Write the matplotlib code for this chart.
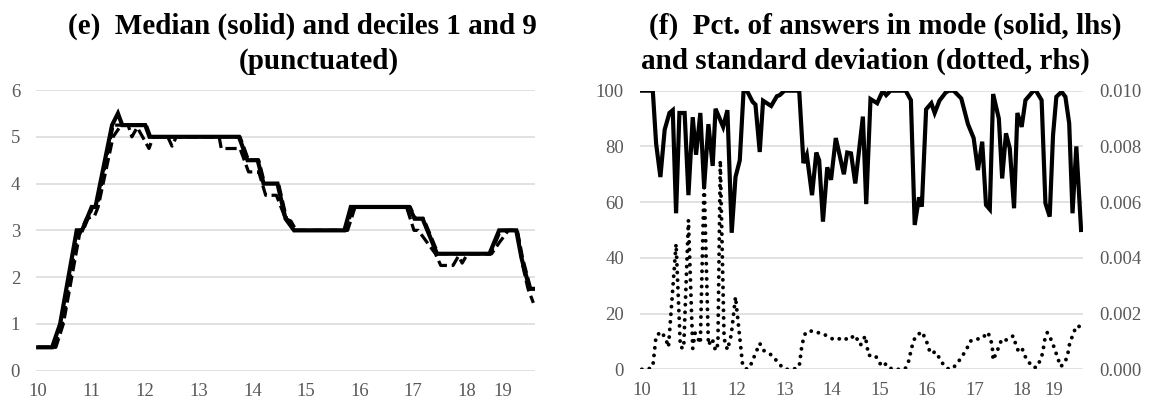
import matplotlib
matplotlib.use("Agg")
import matplotlib.pyplot as plt
from matplotlib.ticker import FormatStrFormatter

plt.rcParams['font.family'] = ['Liberation Serif', 'DejaVu Serif']

# x axis: years (20)10 .. (20)19, label "19" sits at 18.67 on the original axis
tick_pos = [10, 11, 12, 13, 14, 15, 16, 17, 18, 18.67]
tick_lab = ['10', '11', '12', '13', '14', '15', '16', '17', '18', '19']

# (e) median
med_x = [10.0, 10.26, 10.41, 10.72, 10.82, 11.0, 11.07, 11.38, 11.49, 11.57, 12.0, 12.08,
         13.75, 13.91, 14.1, 14.21, 14.47, 14.62, 14.78, 15.72, 15.84, 16.93, 17.03, 17.18,
         17.45, 18.43, 18.61, 18.93, 19.03, 19.18, 19.25]
med_y = [0.5, 0.5, 1.0, 3.0, 3.0, 3.5, 3.5, 5.25, 5.5, 5.25, 5.25, 5.0,
         5.0, 4.5, 4.5, 4.0, 4.0, 3.25, 3.0, 3.0, 3.5, 3.5, 3.25, 3.25,
         2.5, 2.5, 3.0, 3.0, 2.4, 1.75, 1.75]

# (e) decile 1
d1_x = [10.0, 10.33, 10.47, 10.77, 10.9, 11.05, 11.12, 11.4, 11.55, 11.68, 11.75, 11.85,
        11.95, 12.07, 12.15, 12.42, 12.5, 12.58, 13.38, 13.42, 13.77, 13.93, 14.12, 14.25,
        14.45, 14.62, 14.72, 14.82, 15.78, 15.92, 16.88, 17.02, 17.1, 17.42, 17.52, 17.75,
        17.85, 17.92, 18.02, 18.47, 18.62, 18.72, 18.78, 18.95, 19.05, 19.15, 19.25]
d1_y = [0.5, 0.5, 1.0, 2.9, 3.25, 3.3, 3.5, 5.0, 5.25, 5.25, 5.0, 5.2,
        5.0, 4.75, 5.0, 5.0, 4.8, 5.0, 5.0, 4.75, 4.75, 4.25, 4.25, 3.75,
        3.75, 3.25, 3.2, 3.0, 3.0, 3.5, 3.5, 3.0, 3.0, 2.5, 2.25, 2.25,
        2.45, 2.3, 2.5, 2.5, 2.75, 2.9, 3.0, 3.0, 2.25, 1.75, 1.45]

# (e) decile 9
d9_x = [10.0, 10.3, 10.45, 10.75, 10.84, 11.02, 11.1, 11.4, 11.5, 11.58, 12.02, 12.1,
        13.77, 13.93, 14.12, 14.23, 14.49, 14.64, 14.8, 15.75, 15.88, 16.95, 17.05, 17.2,
        17.47, 18.45, 18.64, 18.95, 19.05, 19.2, 19.25]
d9_y = [0.5, 0.5, 1.0, 3.0, 3.0, 3.5, 3.5, 5.25, 5.25, 5.25, 5.25, 5.0,
        5.0, 4.5, 4.5, 4.0, 4.0, 3.25, 3.0, 3.0, 3.5, 3.5, 3.25, 3.25,
        2.5, 2.5, 3.0, 3.0, 2.4, 1.75, 1.75]

# (f) pct of answers in mode (lhs)
mode_x = [10.0, 10.23, 10.3, 10.39, 10.48, 10.58, 10.65, 10.72, 10.79, 10.9, 10.98, 11.07,
          11.14, 11.23, 11.31, 11.4, 11.49, 11.55, 11.71, 11.8, 11.89, 11.97, 12.06, 12.14,
          12.21, 12.33, 12.39, 12.48, 12.55, 12.72, 12.84, 12.9, 13.0, 13.31, 13.4, 13.47,
          13.58, 13.67, 13.73, 13.81, 13.9, 13.98, 14.08, 14.25, 14.32, 14.4, 14.49, 14.65,
          14.72, 14.81, 14.95, 15.07, 15.14, 15.23, 15.55, 15.66, 15.74, 15.83, 15.89, 15.98,
          16.09, 16.16, 16.26, 16.39, 16.46, 16.56, 16.72, 16.86, 16.98, 17.07, 17.16, 17.24,
          17.32, 17.39, 17.51, 17.58, 17.66, 17.74, 17.83, 17.9, 17.99, 18.07, 18.24, 18.29,
          18.41, 18.49, 18.58, 18.65, 18.72, 18.83, 18.91, 18.99, 19.06, 19.14, 19.24]
mode_y = [100, 100, 81, 69, 86, 92, 93, 56, 92, 92, 62.5, 90.5,
          77, 92, 65.5, 88, 73, 93.5, 87, 93, 49, 69, 75, 100,
          100, 96, 95, 78, 96.4, 94.5, 98, 98.4, 100, 100, 74, 77,
          62.5, 77.8, 75, 53, 72.5, 68, 83, 70, 77.8, 77.5, 66.7, 90.7,
          59.3, 97, 95.5, 100, 98.4, 100, 100, 96.6, 51.8, 61.7, 58.4, 93.3,
          95.5, 92, 96.4, 99.3, 100, 100, 97.2, 88, 83, 71.5, 81.7, 59,
          57.4, 98.8, 90, 68.5, 84.7, 79.3, 57.8, 92, 87, 96.6, 100, 100,
          96.6, 59.6, 54.8, 84, 97.8, 99.6, 97.8, 88.3, 56, 80, 50]

# (f) standard deviation (rhs)
sd_x = [10.0, 10.13, 10.23, 10.3, 10.41, 10.5, 10.56, 10.72, 10.81, 10.88, 10.98, 11.07,
        11.12, 11.18, 11.23, 11.31, 11.4, 11.48, 11.55, 11.6, 11.65, 11.73, 11.8, 11.88,
        11.97, 12.12, 12.21, 12.3, 12.48, 12.57, 12.74, 12.91, 13.02, 13.19, 13.31, 13.37,
        13.44, 13.54, 13.65, 13.75, 13.86, 14.0, 14.1, 14.22, 14.35, 14.48, 14.6, 14.7,
        14.77, 14.91, 15.05, 15.14, 15.26, 15.44, 15.54, 15.61, 15.68, 15.75, 15.89, 15.98,
        16.07, 16.18, 16.26, 16.35, 16.46, 16.56, 16.67, 16.75, 16.84, 16.9, 17.02, 17.12,
        17.19, 17.28, 17.33, 17.37, 17.39, 17.45, 17.51, 17.57, 17.63, 17.72, 17.81, 17.86,
        17.91, 17.99, 18.05, 18.13, 18.23, 18.31, 18.38, 18.43, 18.48, 18.53, 18.6, 18.67,
        18.72, 18.81, 18.88, 18.95, 19.0, 19.06, 19.12, 19.16, 19.24]
sd_y = [0, 0, 0.0001, 0.0012, 0.00135, 0.0011, 0.0008, 0.0045, 0.0008, 0.00075, 0.00536, 0.00075,
        0.0013, 0.0011, 0.00093, 0.0068, 0.00087, 0.0011, 0.00067, 0.0009, 0.0075, 0.0011, 0.0007, 0.00123,
        0.0026, 0.00015, 0, 0.0002, 0.00093, 0.00067, 0.0005, 0.00015, 0, 0, 0.0001, 0.0009,
        0.0013, 0.00139, 0.0013, 0.00132, 0.00123, 0.0011, 0.00105, 0.00115, 0.00105, 0.00123, 0.00087, 0.0012,
        0.0005, 0.0005, 0.0001, 0.0002, 0, 0, 0.00002, 0.00028, 0.0008, 0.00117, 0.00135, 0.00105,
        0.00057, 0.00063, 0.0004, 0.00015, 0, 0.00007, 0.0003, 0.0005, 0.00075, 0.001, 0.0011, 0.00108,
        0.00117, 0.00133, 0.0011, 0.00087, 0.00033, 0.00057, 0.0008, 0.00108, 0.00104, 0.00108, 0.0012, 0.00093,
        0.0007, 0.0008, 0.0005, 0.00028, 0.00007, 0.00007, 0.00033, 0.00057, 0.0011, 0.00132, 0.0011, 0.0008,
        0.00055, 0.0001, 0.0002, 0.00045, 0.00093, 0.0012, 0.00147, 0.00144, 0.00165]

GRID = '#d9d9d9'
LAB = '#595959'
FS = 13.5

fig = plt.figure(figsize=(11.51, 4.05), dpi=100)
axL = fig.add_axes([0.0313, 0.0847, 0.4335, 0.693])
axR = fig.add_axes([0.556, 0.0881, 0.3849, 0.688])
axR2 = axR.twinx()


def style(ax):
    for s in ax.spines.values():
        s.set_visible(False)
    ax.set_xlim(9.96, 19.28)
    ax.set_xticks(tick_pos)
    ax.set_xticklabels(tick_lab)
    ax.tick_params(axis='both', length=0, labelsize=FS, labelcolor=LAB)
    ax.tick_params(axis='x', pad=9)
    ax.tick_params(axis='y', pad=11.5)
    ax.yaxis.grid(True, color=GRID, lw=1.1)
    ax.set_axisbelow(True)


style(axL)
axL.set_ylim(0, 6)
axL.set_yticks(range(0, 7))
axL.plot(d9_x, d9_y, color='black', lw=2.3, ls=(0, (3.5, 1.5)), solid_capstyle='butt')
axL.plot(d1_x, d1_y, color='black', lw=2.3, ls=(0, (3.5, 1.5)), solid_capstyle='butt')
axL.plot(med_x, med_y, color='black', lw=3.0, solid_joinstyle='miter')

style(axR)
axR.set_ylim(0, 100)
axR.set_yticks(range(0, 101, 20))
axR.plot(mode_x, mode_y, color='black', lw=3.0, solid_joinstyle='miter', zorder=3)

for s in axR2.spines.values():
    s.set_visible(False)
axR2.set_ylim(0, 0.010)
axR2.set_yticks([0, 0.002, 0.004, 0.006, 0.008, 0.010])
axR2.yaxis.set_major_formatter(FormatStrFormatter('%.3f'))
axR2.tick_params(axis='y', length=0, labelsize=FS, labelcolor=LAB, pad=12)
axR2.plot(sd_x, sd_y, color='black', lw=2.8, ls=(0, (0.01, 1.95)), dash_capstyle='round')

tkw = dict(fontsize=21, fontweight='bold', ha='center', va='baseline')
fig.text(302 / 1151, 1 - 33.5 / 405, '(e)  Median (solid) and deciles 1 and 9', **tkw)
fig.text(319 / 1151, 1 - 68.5 / 405, '(punctuated)', **tkw)
fig.text(885 / 1151, 1 - 33.5 / 405, '(f)  Pct. of answers in mode (solid, lhs)', **tkw)
fig.text(865 / 1151, 1 - 68.5 / 405, 'and standard deviation (dotted, rhs)', **tkw)

fig.savefig('out.png', dpi=100)
